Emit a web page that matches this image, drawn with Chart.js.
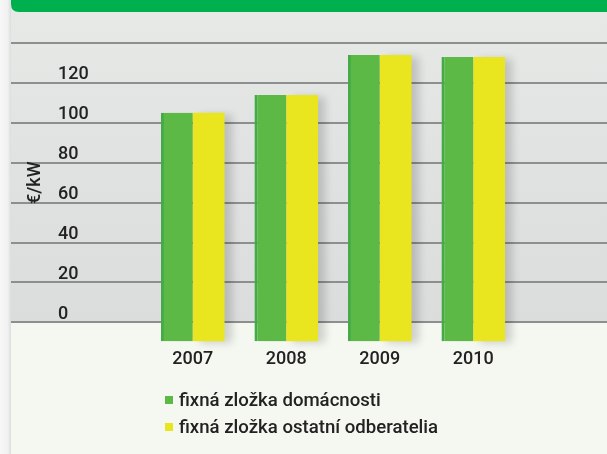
<!DOCTYPE html>
<html lang="sk">
<head>
    <meta charset="UTF-8">
    <title>Fixná zložka</title>
    <script src="https://cdn.jsdelivr.net/npm/chart.js"></script>
    <style>
        html, body { margin: 0; padding: 0; background: #f5f7f1; }
        #wrap { position: relative; width: 607px; height: 454px; }
        #legend { position: absolute; left: 165px; top: 386px; font-family: Roboto, sans-serif; font-size: 18.6px; font-weight: 500; color: #222; }
        #legend .row { display: flex; align-items: center; height: 27px; }
        #legend .box { width: 8px; height: 8px; margin-right: 6px; }
    </style>
</head>
<body>
    <div id="wrap">
        <canvas id="feeChart"></canvas>
        <div id="legend"></div>
    </div>

    <script>
        // data
        const years = ['2007', '2008', '2009', '2010'];
        const households = [105, 114, 134, 133];
        const otherCustomers = [105, 114, 134, 133];
        const yTicks = [0, 20, 40, 60, 80, 100, 120];

        // background, green header and full-width grid lines
        const backdrop = {
            id: 'backdrop',
            beforeDraw(chart) {
                const ctx = chart.ctx;
                const y = chart.scales.y;
                const zero = y.getPixelForValue(0);
                ctx.save();
                ctx.fillStyle = '#f5f7f1';
                ctx.fillRect(0, 0, chart.width, chart.height);
                // left strip
                const g0 = ctx.createLinearGradient(0, 0, 11, 0);
                g0.addColorStop(0, '#f7f7f7');
                g0.addColorStop(0.7, '#f1f1f1');
                g0.addColorStop(1, '#dcdcdc');
                ctx.fillStyle = g0;
                ctx.fillRect(0, 0, 11, chart.height);
                // gray wall
                const g = ctx.createLinearGradient(0, 12, 0, zero);
                g.addColorStop(0, '#e6e9e6');
                g.addColorStop(0.5, '#dfe2e0');
                g.addColorStop(1, '#dadddb');
                ctx.fillStyle = g;
                ctx.fillRect(11, 0, chart.width - 11, zero);
                // header bar
                ctx.fillStyle = '#00b04f';
                ctx.beginPath();
                ctx.moveTo(11, 0);
                ctx.lineTo(chart.width, 0);
                ctx.lineTo(chart.width, 12);
                ctx.lineTo(19, 12);
                ctx.quadraticCurveTo(11, 12, 11, 4);
                ctx.closePath();
                ctx.fill();
                // grid lines across the whole wall
                ctx.strokeStyle = '#8d8f8e';
                ctx.lineWidth = 2;
                y.ticks.forEach(t => {
                    const py = Math.round(y.getPixelForValue(t.value));
                    ctx.beginPath();
                    ctx.moveTo(11, py);
                    ctx.lineTo(chart.width, py);
                    ctx.stroke();
                });
                ctx.restore();
            }
        };

        // soft shadow behind the bars
        const barShadow = {
            id: 'barShadow',
            beforeDatasetsDraw(chart) {
                const ctx = chart.ctx;
                ctx.save();
                ctx.shadowColor = 'rgba(0,0,0,0.16)';
                ctx.shadowBlur = 8;
                ctx.shadowOffsetX = 7;
                ctx.shadowOffsetY = 2;
            },
            afterDatasetsDraw(chart) {
                chart.ctx.restore();
            }
        };

        const ctxBar = document.getElementById('feeChart').getContext('2d');
        const chart = new Chart(ctxBar, {
            type: 'bar',
            data: {
                labels: years,
                datasets: [{
                    label: 'fixná zložka domácnosti',
                    data: households,
                    backgroundColor: '#5cb946',
                    borderColor: '#45ab48',
                    borderWidth: { left: 3, top: 0, right: 0, bottom: 0 },
                    borderSkipped: false,
                    base: -9.5,
                    clip: false
                }, {
                    label: 'fixná zložka ostatní odberatelia',
                    data: otherCustomers,
                    backgroundColor: '#e9e51f',
                    base: -9.5,
                    clip: false
                }]
            },
            options: {
                responsive: true,
                maintainAspectRatio: false,
                animation: false,
                layout: { padding: { top: 43, left: 58, right: 87, bottom: 58 } },
                datasets: { bar: { categoryPercentage: 0.68, barPercentage: 1.0 } },
                plugins: {
                    tooltip: { enabled: false },
                    legend: { display: false }
                },
                scales: {
                    x: {
                        grid: { display: false, drawTicks: false },
                        border: { display: false },
                        ticks: {
                            padding: 26,
                            color: '#222',
                            font: { family: 'Roboto', size: 18, weight: 500 }
                        }
                    },
                    y: {
                        min: 0,
                        max: 140,
                        afterFit: s => { s.width = 88; },
                        afterBuildTicks: s => {
                            s.ticks = yTicks.concat([140]).map(v => ({ value: v }));
                        },
                        grid: { display: false, drawTicks: false },
                        border: { display: false },
                        ticks: {
                            stepSize: 20,
                            crossAlign: 'far',
                            labelOffset: -8,
                            color: '#222',
                            font: { family: 'Roboto', size: 18, weight: 500 },
                            callback: v => (yTicks.includes(v) ? v : '')
                        },
                        title: {
                            display: true,
                            text: '€/kW',
                            color: '#222',
                            padding: { top: -33, bottom: 0 },
                            font: { family: 'Roboto', size: 18, weight: 500 }
                        }
                    }
                }
            },
            plugins: [backdrop, barShadow]
        });

        // legend rows, one per dataset, stacked like the original
        const legendEl = document.getElementById('legend');
        chart.data.datasets.forEach(ds => {
            const row = document.createElement('div');
            row.className = 'row';
            const box = document.createElement('span');
            box.className = 'box';
            box.style.background = ds.backgroundColor;
            const txt = document.createElement('span');
            txt.textContent = ds.label;
            row.appendChild(box);
            row.appendChild(txt);
            legendEl.appendChild(row);
        });
    </script>
</body>
</html>
